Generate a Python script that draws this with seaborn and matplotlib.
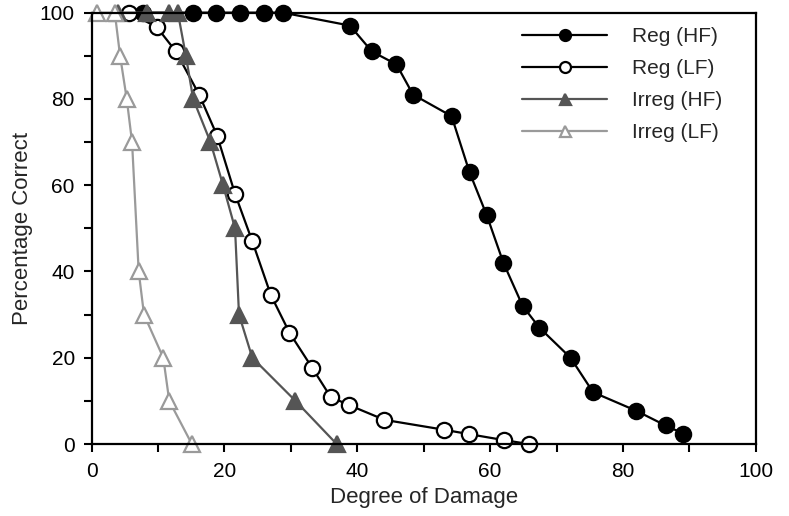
import matplotlib
matplotlib.use("Agg")
import matplotlib.pyplot as plt
import seaborn as sns
import pandas as pd

# ---- data ----
reg_hf_x = [7.8, 15.2, 18.7, 22.4, 26.0, 28.8, 38.9, 42.2, 45.9, 48.4, 54.2, 56.9, 59.5,
            62.0, 64.9, 67.4, 72.1, 75.5, 82.0, 86.4, 89.1]
reg_hf_y = [100, 100, 100, 100, 100, 100, 97, 91, 88, 81, 76, 63, 53,
            42, 32, 27, 20, 12, 7.7, 4.3, 2.4]

reg_lf_x = [5.6, 9.8, 12.7, 16.2, 18.9, 21.6, 24.2, 27.0, 29.8, 33.2, 36.0, 38.8, 44.1,
            53.1, 56.8, 62.1, 65.8]
reg_lf_y = [100, 96.7, 91, 81, 71.5, 58, 47, 34.5, 25.8, 17.7, 10.9, 9.0, 5.6,
            3.3, 2.3, 0.9, 0]

irr_hf_x = [4.0, 8.3, 11.6, 13.0, 14.2, 15.3, 17.9, 19.8, 21.6, 22.2, 24.2, 30.7, 36.9]
irr_hf_y = [100, 100, 100, 100, 90, 80, 70, 60, 50, 30, 20, 10, 0]

irr_lf_x = [0.8, 3.5, 4.3, 5.3, 6.1, 7.1, 7.9, 10.8, 11.7, 15.1]
irr_lf_y = [100, 100, 90, 80, 70, 40, 30, 20, 10, 0]

labels = ["Reg (HF)", "Reg (LF)", "Irreg (HF)", "Irreg (LF)"]
x_ticks = [0, 20, 40, 60, 80, 100]
y_ticks = [0, 20, 40, 60, 80, 100]

sns.set_style("ticks")
plt.rcParams["font.family"] = ["Liberation Sans", "DejaVu Sans"]

fig = plt.figure(figsize=(7.89, 5.16), dpi=100)
ax = fig.add_axes([0.116, 0.1395, 0.842, 0.836])

styles = [
    dict(color="black", marker="o", markerfacecolor="black", markeredgecolor="black"),
    dict(color="black", marker="o", markerfacecolor="white", markeredgecolor="black"),
    dict(color="#555555", marker="^", markerfacecolor="#555555", markeredgecolor="#555555"),
    dict(color="#9a9a9a", marker="^", markerfacecolor="white", markeredgecolor="#9a9a9a"),
]
series = [(reg_hf_x, reg_hf_y), (reg_lf_x, reg_lf_y), (irr_hf_x, irr_hf_y), (irr_lf_x, irr_lf_y)]

for (xs, ys), lab, st in zip(series, labels, styles):
    df = pd.DataFrame({"x": xs, "y": ys})
    sns.lineplot(data=df, x="x", y="y", ax=ax, estimator=None, sort=False,
                 linewidth=1.6, markersize=11, markeredgewidth=1.6,
                 label=lab, clip_on=False, **st)

ax.set_xlim(0, 100)
ax.set_ylim(0, 100)
ax.set_xticks(x_ticks)
ax.set_yticks(y_ticks)
ax.set_xticks([10, 30, 50, 70, 90], minor=True)
ax.set_yticks([10, 30, 50, 70, 90], minor=True)
ax.tick_params(which="both", direction="out", length=6, width=1.5, labelsize=15, colors="black")
ax.tick_params(axis="x", pad=7)
ax.tick_params(axis="y", pad=6)
for s in ax.spines.values():
    s.set_visible(True)
    s.set_linewidth(1.6)
    s.set_color("black")

ax.set_xlabel("Degree of Damage", fontsize=16, labelpad=4)
ax.set_ylabel("Percentage Correct", fontsize=16, labelpad=5)

leg = ax.legend(loc="upper right", frameon=False, fontsize=15, handlelength=4.1,
                handletextpad=1.2, labelspacing=0.62, markerscale=0.72,
                borderaxespad=0.3, bbox_to_anchor=(0.972, 1.0))

fig.savefig("out.png", dpi=100)
